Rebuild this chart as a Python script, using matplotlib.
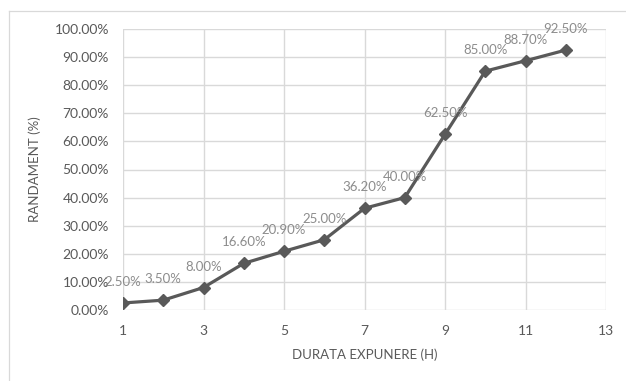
import matplotlib
matplotlib.use("Agg")
import matplotlib.pyplot as plt
from matplotlib.lines import Line2D
from matplotlib.ticker import FuncFormatter

hours = [1, 2, 3, 4, 5, 6, 7, 8, 9, 10, 11, 12]
yield_pct = [2.5, 3.5, 8.0, 16.6, 20.9, 25.0, 36.2, 40.0, 62.5, 85.0, 88.7, 92.5]
x_ticks = [1, 3, 5, 7, 9, 11, 13]
y_ticks = [0, 10, 20, 30, 40, 50, 60, 70, 80, 90, 100]

plt.rcParams['font.family'] = ['Lato', 'DejaVu Sans']

fig = plt.figure(figsize=(6.26, 3.81), dpi=100)
ax = fig.add_axes([123 / 626, 71 / 381, 483 / 626, 281 / 381])

# outer chart frame (only top and left edges visible)
fig.add_artist(Line2D([9 / 626, 1], [1 - 11 / 381, 1 - 11 / 381], color='#d9d9d9', lw=0.9))
fig.add_artist(Line2D([9 / 626, 9 / 626], [0, 1 - 11 / 381], color='#d9d9d9', lw=0.9))

ax.plot(hours, yield_pct, color='#595959', lw=2.3, marker='D', markersize=6.5, zorder=3)

for x, y in zip(hours, yield_pct):
    ax.annotate(f"{y:.2f}%", (x, y), xytext=(0, 21), textcoords='offset pixels',
                ha='center', va='center', fontsize=9.5, color='#8c8c8c', zorder=4)

ax.set_xlim(1, 13)
ax.set_ylim(0, 100)
ax.set_xticks(x_ticks)
ax.set_yticks(y_ticks)
ax.yaxis.set_major_formatter(FuncFormatter(lambda v, p: f"{v:.2f}%"))
ax.tick_params(length=0, labelsize=10, labelcolor='#595959')
ax.tick_params(axis='x', pad=11)
ax.tick_params(axis='y', pad=10)
ax.grid(True, color='#d9d9d9', lw=1.0)
ax.set_axisbelow(True)
for s in ax.spines.values():
    s.set_visible(False)

ax.set_xlabel('DURATA EXPUNERE (H)', fontsize=9.5, color='#595959', labelpad=8)
ax.set_ylabel('RANDAMENT (%)', fontsize=9.5, color='#595959', labelpad=10)

fig.savefig('out.png', dpi=100)
